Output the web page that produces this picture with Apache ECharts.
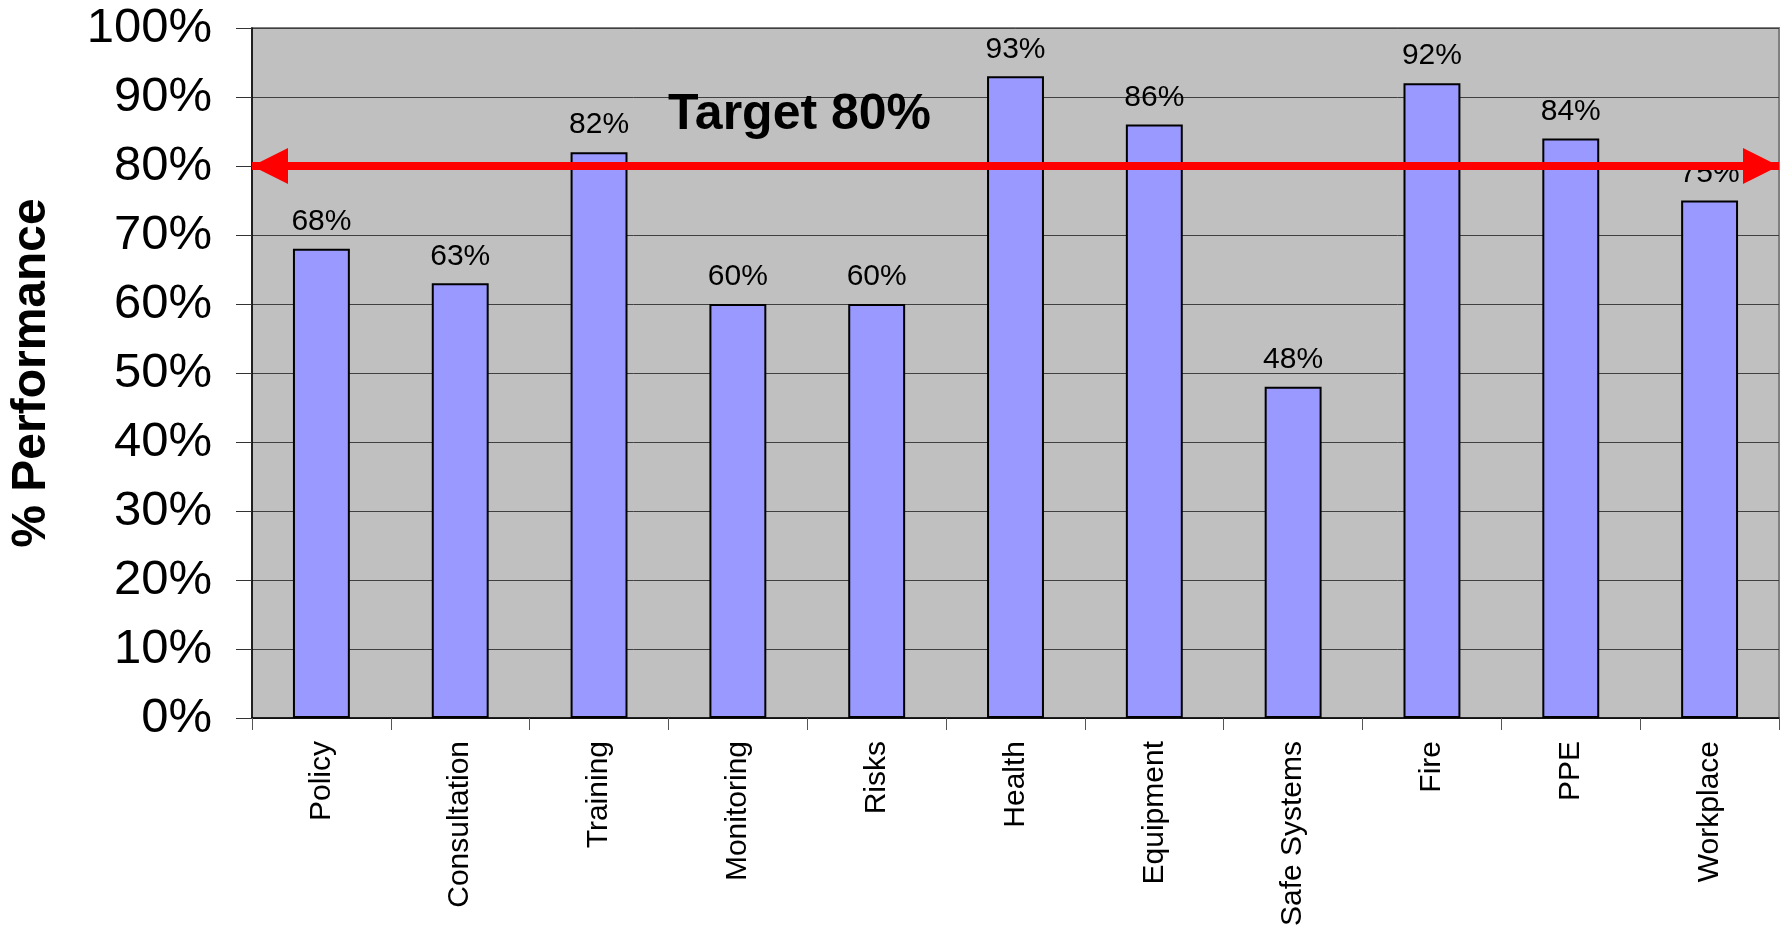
<!DOCTYPE html>
<html>
<head>
<meta charset="utf-8">
<script src="https://cdn.jsdelivr.net/npm/echarts@6/dist/echarts.min.js"></script>
<style>html,body{margin:0;padding:0;background:#fff;}#c{width:1782px;height:940px;}</style>
</head>
<body>
<div id="c"></div>
<script>
const categories = ['Policy','Consultation','Training','Monitoring','Risks','Health','Equipment','Safe Systems','Fire','PPE','Workplace'];
const performance = [68, 63, 82, 60, 60, 93, 86, 48, 92, 84, 75];
const targetValue = 80;
const targetText = 'Target 80%';
const yAxisTitle = '% Performance';

const chart = echarts.init(document.getElementById('c'));
const font = 'Liberation Sans, Arial, sans-serif';
const arrowPath = 'path://M0,-20 M0,0 L10,20 L-10,20 Z';
chart.setOption({
  animation: false,
  grid: {
    left: 252, right: 3, top: 28, bottom: 222,
    show: true, backgroundColor: '#C0C0C0', borderColor: '#808080', borderWidth: 2
  },
  xAxis: {
    type: 'category',
    data: categories,
    axisLine: { lineStyle: { color: '#000', width: 1.5 } },
    axisTick: { show: true, interval: 0, length: 12, lineStyle: { color: '#555' } },
    axisLabel: { rotate: 90, margin: 23, fontSize: 30, color: '#000', fontFamily: font, interval: 0 },
    splitLine: { show: false }
  },
  yAxis: {
    type: 'value', min: 0, max: 100, interval: 10,
    name: yAxisTitle, nameLocation: 'middle', nameGap: 196,
    nameTextStyle: { fontSize: 48, fontWeight: 'bold', color: '#000', fontFamily: font },
    axisLine: { show: true, lineStyle: { color: '#000', width: 1.5 } },
    axisTick: { show: true, length: 16, lineStyle: { color: '#333' } },
    axisLabel: { formatter: '{value}%', fontSize: 49, color: '#000', margin: 40, fontFamily: font },
    splitLine: { show: true, lineStyle: { color: '#404040', width: 1 } }
  },
  series: [
    {
      type: 'bar',
      data: performance,
      barWidth: '41%',
      z: 2,
      itemStyle: { color: '#9999FF', borderColor: '#000', borderWidth: 2 },
      label: { show: true, position: 'top', distance: 12, formatter: '{c}%', fontSize: 30, color: '#000', fontFamily: font }
    },
    {
      type: 'line',
      data: [],
      z: 10,
      markLine: {
        silent: true,
        symbol: [arrowPath, arrowPath],
        symbolSize: [36, 72],
        label: { show: false },
        lineStyle: { color: '#FF0000', width: 8, type: 'solid' },
        data: [{ yAxis: targetValue }]
      }
    }
  ],
  graphic: [{
    type: 'text', left: 668, top: 90, z: 20,
    style: { text: targetText, font: 'bold 50px Liberation Sans, Arial, sans-serif', fill: '#000' }
  }]
});
</script>
</body>
</html>
